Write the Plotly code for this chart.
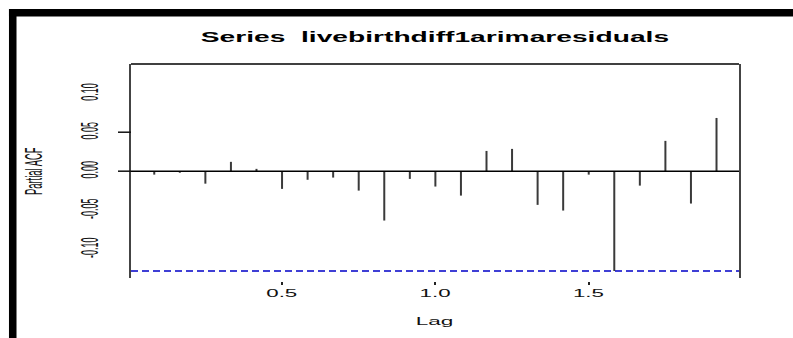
import plotly.graph_objects as go

# Partial autocorrelation of the ARIMA residuals, monthly series (lag in years)
months = list(range(1, 24))
lag = [m / 12 for m in months]
pacf = [-0.0044, -0.0020, -0.0160, 0.0120, 0.0030, -0.0227, -0.0110, -0.0082,
        -0.0249, -0.0633, -0.0099, -0.0197, -0.0313, 0.0260, 0.0286, -0.0432,
        -0.0505, -0.0044, -0.1280, -0.0185, 0.0389, -0.0415, 0.0683]
ci_bound = 0.128

x_ticks = [0.5, 1.0, 1.5]
x_tick_text = ["0.5", "1.0", "1.5"]
y_ticks = [0.10, 0.05, 0.00, -0.05, -0.10]
y_tick_text = ["0.10", "0.05", "0.00", "-0.05", "-0.10"]
y_marked_ticks = [0.05, 0.00]

title_text = "Series\u00a0 livebirthdiff1arimaresiduals"
FONT = "Liberation Sans, Arial, sans-serif"

# vertical stems from zero to each partial autocorrelation
stem_x, stem_y = [], []
for lx, v in zip(lag, pacf):
    stem_x += [lx, lx, None]
    stem_y += [0, v, None]

fig = go.Figure()
fig.add_trace(go.Scatter(
    x=stem_x, y=stem_y, mode="lines",
    line=dict(color="#3a3a3a", width=2),
    hoverinfo="skip", showlegend=False,
))

# zero reference and lower confidence bound
fig.add_hline(y=0, line=dict(color="#000000", width=1.5))
fig.add_hline(y=-ci_bound, line=dict(color="#0000c8", width=1.5, dash="7px,4px"))

# left-hand tick marks on the y axis
for t in y_marked_ticks:
    fig.add_shape(type="line", xref="paper", yref="y", x0=-0.0214, x1=0, y0=t, y1=t,
                  line=dict(color="#111111", width=1.5))

# top edge of the plotting box
fig.add_shape(type="line", xref="paper", yref="paper", x0=0, x1=1, y0=1, y1=1,
              line=dict(color="#000000", width=1.5))

# heavy outer frame along the top and the left
fig.add_shape(type="rect", xref="paper", yref="paper", x0=-0.2007, x1=1.09,
              y0=1.2189, y1=1.2535, fillcolor="#000000", line=dict(width=0), layer="above")
fig.add_shape(type="rect", xref="paper", yref="paper", x0=-0.2007, x1=-0.1883,
              y0=-0.27, y1=1.2535, fillcolor="#000000", line=dict(width=0), layer="above")

fig.add_annotation(text="Partial ACF", xref="paper", yref="paper", x=-0.1612, y=0.507,
                   textangle=-90, showarrow=False, xanchor="center", yanchor="middle",
                   font=dict(family=FONT, size=9.4, color="#111111"))
fig.add_annotation(text="Lag", xref="paper", yref="paper", x=0.5, y=-0.1843,
                   showarrow=False, xanchor="center", yanchor="middle",
                   font=dict(family=FONT, size=10.5, color="#111111"))

fig.update_layout(
    width=793, height=338,
    margin=dict(l=131, r=54, t=64, b=57),
    paper_bgcolor="#ffffff", plot_bgcolor="#ffffff",
    title=dict(text=title_text, x=0.5, xref="paper", xanchor="center",
               y=1 - 37 / 338, yanchor="middle",
               font=dict(family=FONT, size=14, color="#000000", weight="bold")),
    xaxis=dict(range=[0.0075, 1.99], showgrid=False, zeroline=False, showline=False,
               tickvals=x_ticks, ticktext=x_tick_text, ticks="outside", ticklen=3,
               tickwidth=1.5, tickcolor="#222222", anchor="free", position=0,
               tickfont=dict(family=FONT, size=10, color="#111111")),
    yaxis=dict(range=[-0.137, 0.1375], domain=[3 / 217, 1], showgrid=False,
               zeroline=False, showline=True, mirror=True, linecolor="#444444",
               linewidth=2, tickvals=y_ticks, ticktext=y_tick_text, ticks="",
               tickangle=-90, ticklabelstandoff=33,
               tickfont=dict(family=FONT, size=9, color="#111111")),
)

# R-style wide lettering: widen the labels horizontally about their centres
post = """
var gd = document.getElementById('{plot_id}');
function widen(el, s) {
  var r = el.getBoundingClientRect();
  if (!r.width) return;
  var cx = r.left + r.width / 2;
  var svg = el.ownerSVGElement;
  var m = el.parentNode.getScreenCTM();
  var p = svg.createSVGPoint(); p.x = cx; p.y = r.top;
  p = p.matrixTransform(m.inverse());
  var old = el.getAttribute('transform') || '';
  el.setAttribute('transform', 'translate(' + p.x + ',0) scale(' + s + ',1) translate(' + (-p.x) + ',0) ' + old);
}
function widenTo(el, target, measure) {
  var w = (measure || el).getBoundingClientRect().width;
  if (w) widen(el, target / w);
}
gd.querySelectorAll('.gtitle').forEach(function (e) { widenTo(e, 469); });
gd.querySelectorAll('.xtick text').forEach(function (e) { widenTo(e, 32); });
gd.querySelectorAll('.ytick text').forEach(function (e) { widen(e, 2.7); });
var ann = gd.querySelectorAll('g.annotation');
if (ann.length > 0) widen(ann[0], 2.6);
if (ann.length > 1) widenTo(ann[1], 38, ann[1].querySelector('text'));
"""

fig.write_html("out.html", config={"responsive": False, "displayModeBar": False},
               post_script=post)
